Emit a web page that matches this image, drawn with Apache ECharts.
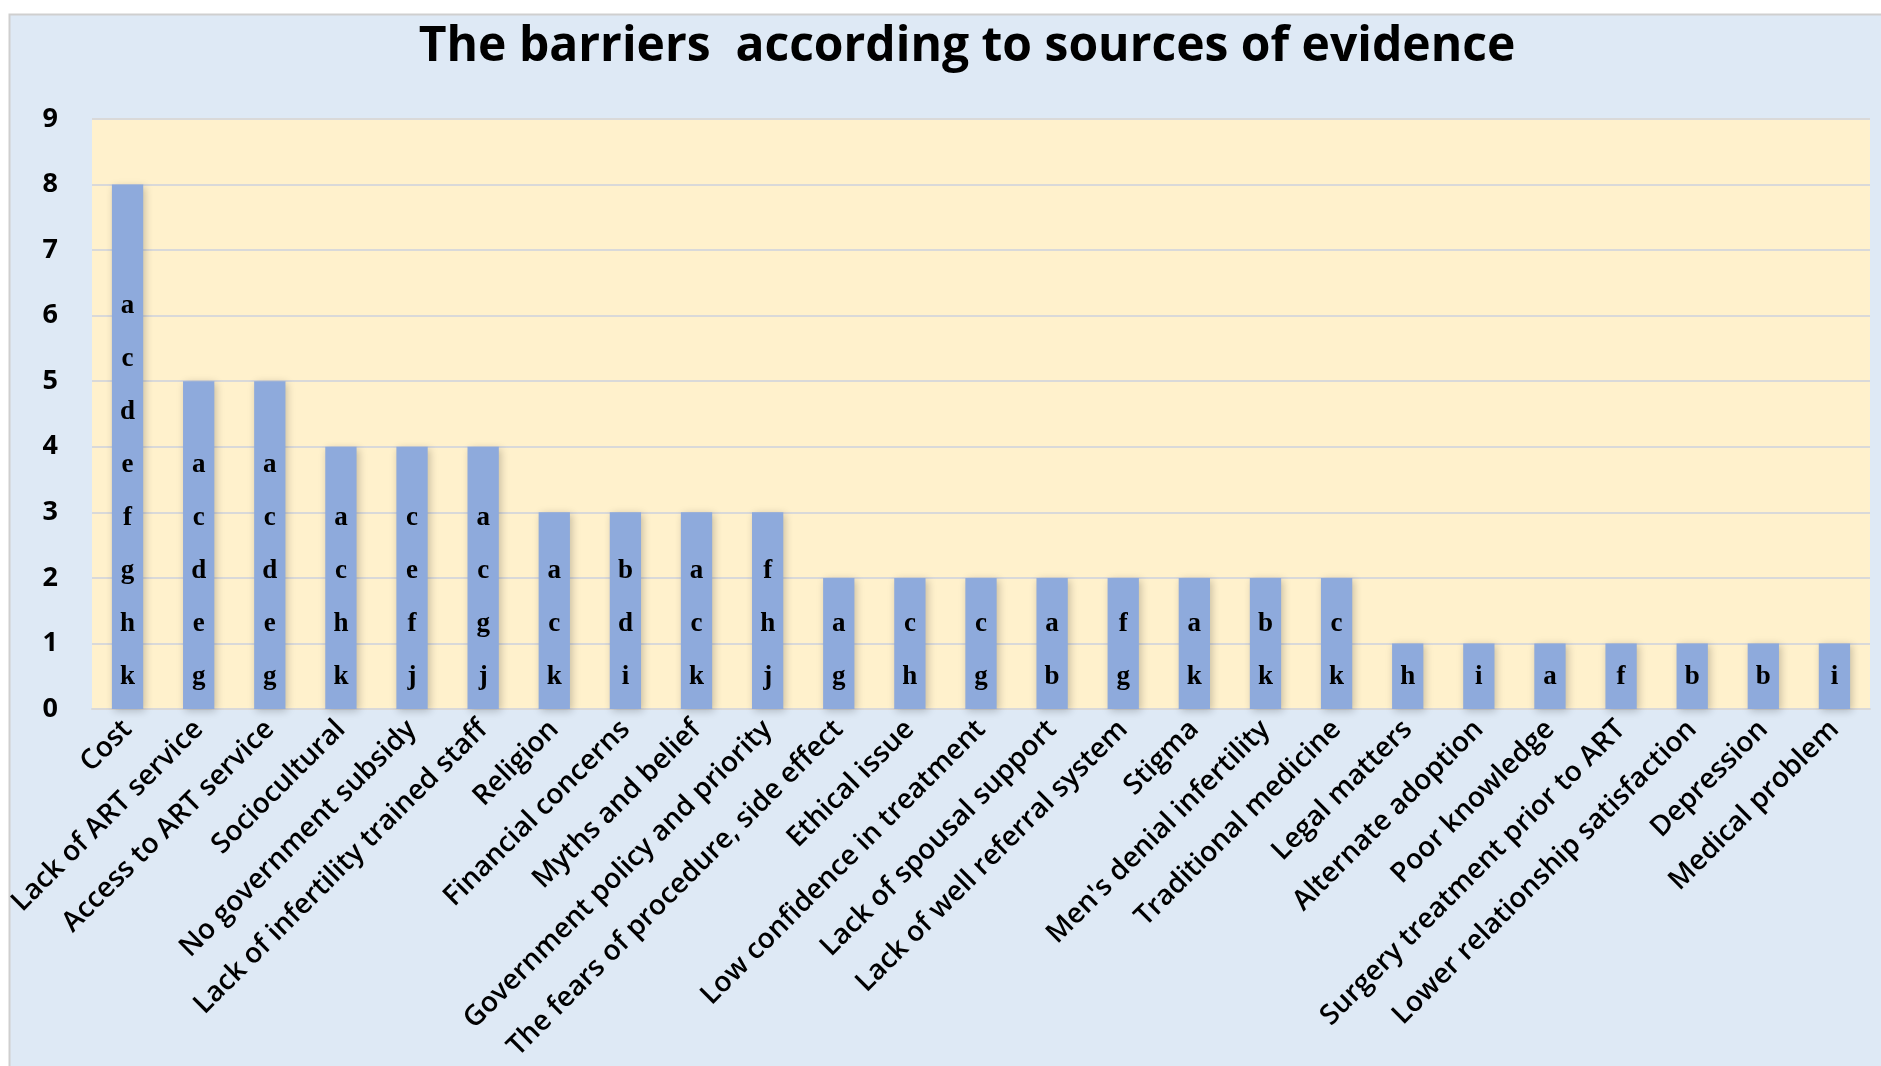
<!DOCTYPE html>
<html>
<head>
<meta charset="utf-8">
<script src="https://cdn.jsdelivr.net/npm/echarts@6/dist/echarts.min.js"></script>
<style>
html,body{margin:0;padding:0;background:#fff;}
#chart{width:1881px;height:1066px;}
</style>
</head>
<body>
<div id="chart"></div>
<script>
const categories = [
  "Cost","Lack of ART service","Access to ART service","Sociocultural",
  "No government subsidy","Lack of infertility trained staff","Religion",
  "Financial concerns","Myths and belief","Government policy and priority",
  "The fears of procedure, side effect","Ethical issue","Low confidence in treatment",
  "Lack of spousal support","Lack of well referral system","Stigma",
  "Men's denial infertility","Traditional medicine","Legal matters",
  "Alternate adoption","Poor knowledge","Surgery treatment prior to ART",
  "Lower relationship satisfaction","Depression","Medical problem"
];
const values = [8,5,5,4,4,4,3,3,3,3,2,2,2,2,2,2,2,2,1,1,1,1,1,1,1];
const sources = [
  "acdefghk","acdeg","acdeg","achk","cefj","acgj","ack","bdi","ack","fhj",
  "ag","ch","cg","ab","fg","ak","bk","ck","h","i","a","f","b","b","i"
];
const yTicks = [0,1,2,3,4,5,6,7,8,9];

const chart = echarts.init(document.getElementById('chart'));
chart.setOption({
  backgroundColor: '#ffffff',
  animation: false,
  graphic: [{
    type: 'rect', z: -10, silent: true,
    shape: {x: 9.5, y: 14.5, width: 1880, height: 1060},
    style: {fill: '#DEE9F5', stroke: '#CFCFCF', lineWidth: 2}
  }],
  title: {
    text: 'The barriers  according to sources of evidence',
    left: 962, textAlign: 'center', top: 18,
    textStyle: {fontFamily: 'Open Sans', fontWeight: 'bold', fontSize: 48, color: '#000'}
  },
  grid: {
    left: 92, right: 11, top: 119, bottom: 357,
    show: true, backgroundColor: '#FFF1CC', borderWidth: 0
  },
  xAxis: {
    type: 'category',
    data: categories,
    axisLine: {show: true, lineStyle: {color: '#D9D9D9', width: 2}},
    axisTick: {show: false},
    axisLabel: {
      interval: 0, rotate: 45, margin: 16,
      fontFamily: 'Open Sans', fontWeight: 600, fontSize: 28, color: '#000'
    }
  },
  yAxis: {
    type: 'value', min: 0, max: 9, interval: 1,
    axisLine: {show: false}, axisTick: {show: false},
    splitLine: {show: true, lineStyle: {color: '#D9D9D9', width: 2}},
    axisLabel: {
      margin: 34, fontFamily: 'Open Sans', fontWeight: 'bold', fontSize: 27, color: '#000',
      formatter: v => yTicks.includes(v) ? String(v) : ''
    }
  },
  series: [{
    type: 'bar',
    data: values.map((v, i) => ({value: v, letters: sources[i]})),
    barWidth: '44%',
    itemStyle: {
      color: '#8EAADC',
      shadowColor: 'rgba(0,0,0,0.22)', shadowBlur: 8, shadowOffsetX: 2, shadowOffsetY: 2
    },
    label: {
      show: true, position: 'insideBottom', distance: 5,
      fontFamily: 'Liberation Serif', fontWeight: 'bold', fontSize: 27, color: '#000',
      lineHeight: 53,
      formatter: p => sources[p.dataIndex].split('').join('\n')
    }
  }]
});
</script>
</body>
</html>
